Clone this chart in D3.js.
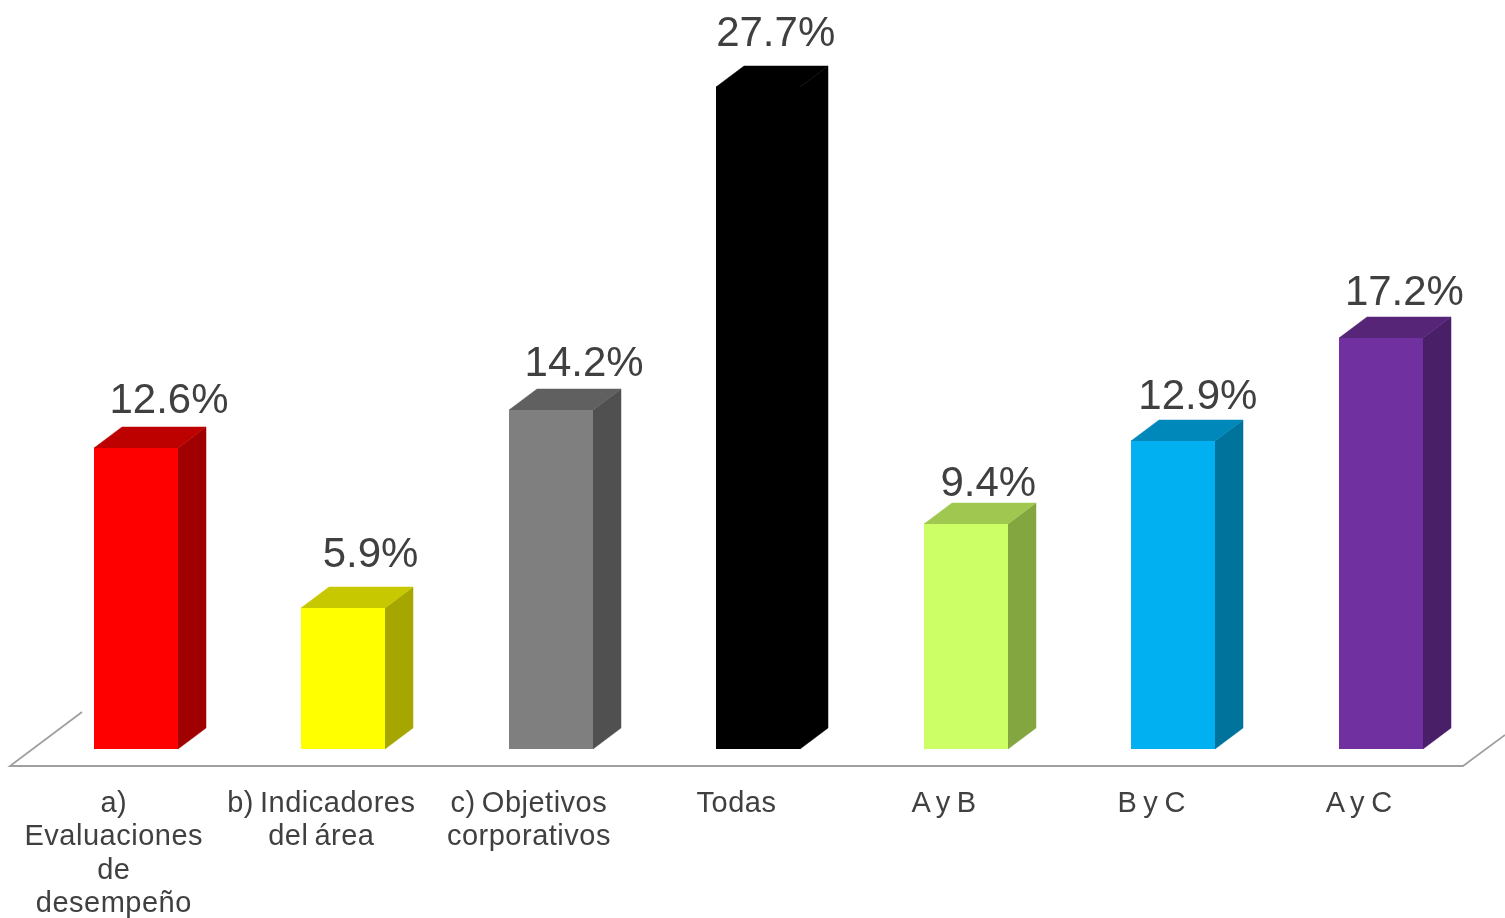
<!DOCTYPE html>
<html><head><meta charset="utf-8">
<script src="https://cdn.jsdelivr.net/npm/d3@7/dist/d3.min.js"></script>
<style>html,body{margin:0;padding:0;background:#fff;overflow:hidden}svg{display:block;filter:blur(0.4px)}</style>
</head><body><svg id="c" width="1505" height="918"></svg>
<script>
const categories = ["a) Evaluaciones de desempeño","b) Indicadores del área","c) Objetivos corporativos","Todas","A y B","B y C","A y C"];
const categoryLines = [["a)","Evaluaciones","de","desempeño"],["b) Indicadores","del área"],["c) Objetivos","corporativos"],["Todas"],["A y B"],["B y C"],["A y C"]];
const values = [12.6,5.9,14.2,27.7,9.4,12.9,17.2];
const frontColors = ["#ff0000","#ffff00","#7f7f7f","#000000","#ccff66","#00b0f0","#7030a0"];
const sideColors = ["#a00000","#a6a600","#505050","#000000","#84a640","#00739d","#491f68"];
const topColors = ["#bd0000","#c8c800","#606060","#000000","#a0c850","#0088bb","#572578"];
const labelNudgeX = [33,27,33,17,22,24,23];
const labelNudgeY = [14,20,13,20,7,11,12];

const baseY=749, floorY=766, floorL=10, floorR=1463, depthX=28, depthY=21, barW=84, barOffset=84;
const svg=d3.select("#c");
const x=d3.scaleBand().domain(categories).range([floorL,floorR]);
const y=d3.scaleLinear().domain([0,27.7]).range([baseY,87]);
const line=d3.line();
const left=d=>Math.floor(x(d)+barOffset);
const top_=v=>Math.round(y(v));

const floor=[[82,712],[floorL,floorY],[floorR,floorY],[1505,735]];
svg.append("path").attr("d",line(floor)).attr("fill","none").attr("stroke","#a0a0a0").attr("stroke-width",1.8);

const g=svg.selectAll("g.bar").data(categories).join("g").attr("class","bar");
g.append("path").attr("fill",(d,i)=>sideColors[i]).attr("stroke",(d,i)=>sideColors[i]).attr("stroke-width",0.5).attr("d",(d,i)=>{
  const r=left(d)+barW,t=top_(values[i]);
  return line([[r,t],[r+depthX,t-depthY],[r+depthX,baseY-depthY],[r,baseY]])+"Z";});
g.append("path").attr("fill",(d,i)=>topColors[i]).attr("stroke",(d,i)=>topColors[i]).attr("stroke-width",0.5).attr("d",(d,i)=>{
  const l=left(d),t=top_(values[i]);
  return line([[l,t],[l+depthX,t-depthY],[l+barW+depthX,t-depthY],[l+barW,t]])+"Z";});
g.append("rect").attr("fill",(d,i)=>frontColors[i])
  .attr("x",d=>left(d)).attr("width",barW)
  .attr("y",(d,i)=>top_(values[i])).attr("height",(d,i)=>baseY-top_(values[i]));

g.append("text").attr("text-anchor","middle")
  .attr("x",(d,i)=>x(d)+barOffset+barW/2+labelNudgeX[i])
  .attr("y",(d,i)=>y(values[i])-depthY-labelNudgeY[i])
  .attr("font-family","'Liberation Sans',Arial,sans-serif").attr("font-size",42).attr("fill","#404040")
  .text((d,i)=>values[i].toFixed(1)+"%");

g.each(function(d,i){
  const t=d3.select(this).append("text").attr("text-anchor","middle")
    .attr("font-family","'Liberation Sans',Arial,sans-serif").attr("font-size",29).attr("fill","#404040")
    .attr("letter-spacing",0.5).attr("word-spacing",-2.5);
  categoryLines[i].forEach((s,k)=>t.append("tspan").attr("x",x(d)+x.bandwidth()/2).attr("y",811.7+k*33.5).text(s));
});
</script></body></html>
